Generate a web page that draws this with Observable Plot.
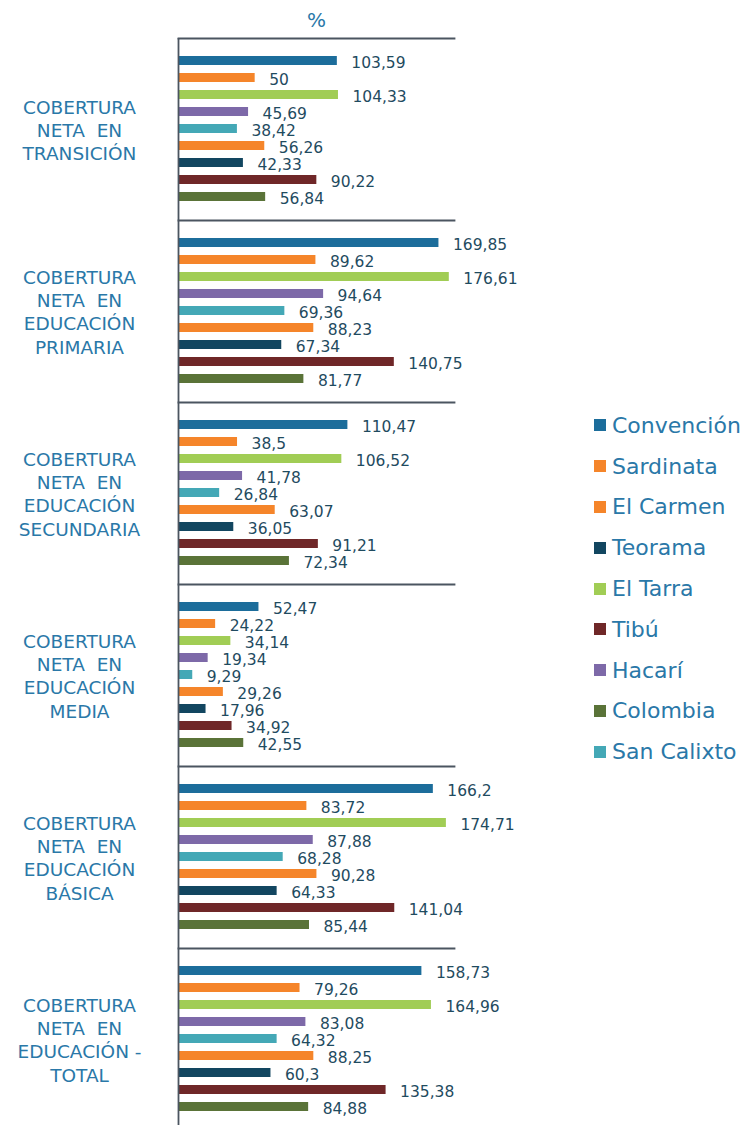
<!DOCTYPE html>
<html>
<head>
<meta charset="utf-8">
<script src="https://cdn.jsdelivr.net/npm/d3@7"></script>
<script src="https://cdn.jsdelivr.net/npm/@observablehq/plot@0.6"></script>
<style>
  html, body { margin: 0; padding: 0; background: #fff; overflow: hidden; }
  #wrap { position: relative; width: 744px; height: 1125px; overflow: hidden; font-family: "Century Gothic", "DejaVu Sans", sans-serif; }
  #legend { position: absolute; left: 594px; top: 405px; }
  .item { display: flex; align-items: center; height: 40.8px; font-size: 22px; color: #2a78a8; white-space: nowrap; }
  .sw { width: 12px; height: 12px; margin-right: 6px; flex: none; }
</style>
</head>
<body>
<div id="wrap"><div id="legend"></div></div>
<script>
const groups = [
  "COBERTURA\nNETA  EN\nTRANSICIÓN",
  "COBERTURA\nNETA  EN\nEDUCACIÓN\nPRIMARIA",
  "COBERTURA\nNETA  EN\nEDUCACIÓN\nSECUNDARIA",
  "COBERTURA\nNETA  EN\nEDUCACIÓN\nMEDIA",
  "COBERTURA\nNETA  EN\nEDUCACIÓN\nBÁSICA",
  "COBERTURA\nNETA  EN\nEDUCACIÓN -\nTOTAL"
];
const seriesOrder = ["Convención","Sardinata","El Tarra","Hacarí","San Calixto","El Carmen","Teorama","Tibú","Colombia"];
const legendOrder = ["Convención","Sardinata","El Carmen","Teorama","El Tarra","Tibú","Hacarí","Colombia","San Calixto"];

const convencion = [103.59, 169.85, 110.47, 52.47, 166.2, 158.73];
const sardinata  = [50, 89.62, 38.5, 24.22, 83.72, 79.26];
const elTarra    = [104.33, 176.61, 106.52, 34.14, 174.71, 164.96];
const hacari     = [45.69, 94.64, 41.78, 19.34, 87.88, 83.08];
const sanCalixto = [38.42, 69.36, 26.84, 9.29, 68.28, 64.32];
const elCarmen   = [56.26, 88.23, 63.07, 29.26, 90.28, 88.25];
const teorama    = [42.33, 67.34, 36.05, 17.96, 64.33, 60.3];
const tibu       = [90.22, 140.75, 91.21, 34.92, 141.04, 135.38];
const colombia   = [56.84, 81.77, 72.34, 42.55, 85.44, 84.88];

const colors = {
  "Convención": "#1c6d9b",
  "Sardinata": "#f5852a",
  "El Carmen": "#f5852a",
  "Teorama": "#124660",
  "El Tarra": "#a1cd55",
  "Tibú": "#6f2728",
  "Hacarí": "#7d69a8",
  "Colombia": "#5a7338",
  "San Calixto": "#44a8b6"
};

const valuesBySeries = {
  "Convención": convencion, "Sardinata": sardinata, "El Tarra": elTarra,
  "Hacarí": hacari, "San Calixto": sanCalixto, "El Carmen": elCarmen,
  "Teorama": teorama, "Tibú": tibu, "Colombia": colombia
};

const rows = [];
groups.forEach((g, gi) => {
  seriesOrder.forEach(s => rows.push({group: g, series: s, value: valuesBySeries[s][gi]}));
});

const fmt = v => String(v).replace(".", ",");
const font = '"Century Gothic", "DejaVu Sans", sans-serif';
const lineColor = "#4b5560";

const chart = Plot.plot({
  width: 744,
  height: 1130,
  marginLeft: 178,
  marginRight: 290,
  marginTop: 38,
  marginBottom: 0,
  style: {fontFamily: font, background: "transparent", overflow: "visible"},
  x: {domain: [0, 180], axis: null},
  y: {domain: seriesOrder, axis: null, paddingInner: 0.47, paddingOuter: 1.06},
  fy: {domain: groups, axis: null, paddingInner: 0, paddingOuter: 0},
  color: {domain: seriesOrder, range: seriesOrder.map(s => colors[s])},
  marks: [
    Plot.barX(rows, {x: "value", y: "series", fy: "group", fill: "series"}),
    Plot.text(rows, {x: "value", y: "series", fy: "group", text: d => fmt(d.value),
      textAnchor: "start", dx: 14, dy: 2, fill: "#1f4b5f", fontSize: 15.5}),
    Plot.frame({anchor: "top", stroke: lineColor, strokeWidth: 1.8}),
    Plot.ruleX([0], {stroke: lineColor, strokeWidth: 1.8}),
    Plot.text(groups, {fy: d => d, text: d => d, frameAnchor: "left", dx: -99,
      textAnchor: "middle", lineHeight: 1.25, fill: "#2a78a8", fontSize: 18.5}),
    Plot.text(["%"], {fy: () => groups[0], text: d => d, frameAnchor: "top", dy: -12,
      lineAnchor: "bottom", fill: "#2a78a8", fontSize: 20})
  ]
});

const wrap = document.getElementById("wrap");
wrap.insertBefore(chart, wrap.firstChild);

const legend = document.getElementById("legend");
legendOrder.forEach(s => {
  const it = document.createElement("div");
  it.className = "item";
  const sw = document.createElement("span");
  sw.className = "sw";
  sw.style.background = colors[s];
  const tx = document.createElement("span");
  tx.textContent = s;
  it.appendChild(sw);
  it.appendChild(tx);
  legend.appendChild(it);
});
</script>
</body>
</html>
